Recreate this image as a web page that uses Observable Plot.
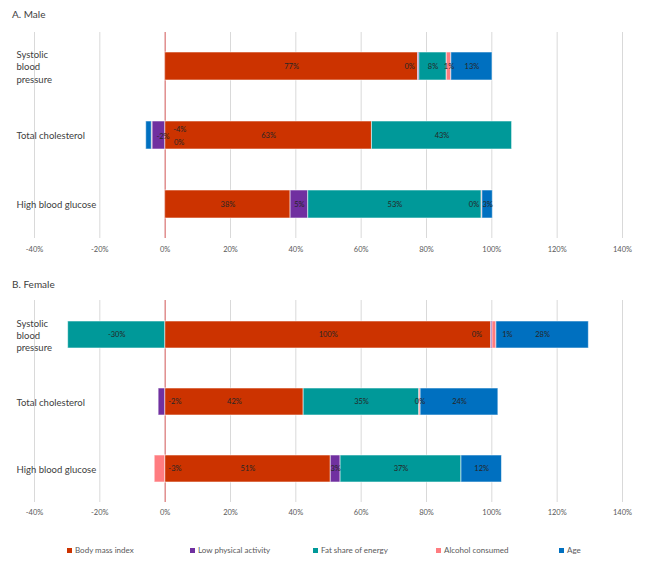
<!DOCTYPE html>
<html>
<head>
<meta charset="utf-8">
<script src="https://cdn.jsdelivr.net/npm/d3@7"></script>
<script src="https://cdn.jsdelivr.net/npm/@observablehq/plot@0.6"></script>
<style>
  body { margin: 0; background: #fff; font-family: Lato, "Open Sans", sans-serif; }
  #wrap { position: relative; width: 650px; height: 569px; overflow: hidden; background: #fff; }
  .title { position: absolute; left: 12px; font-size: 10px; color: #404040; z-index: 2; }
  .panel { position: absolute; left: 0; z-index: 1; }
  #legend { position: absolute; left: 67px; top: 545px; display: flex; font-size: 8px; color: #595959; }
  #legend .item { width: 123px; display: flex; align-items: center; }
  #legend .sw { width: 5px; height: 5px; margin-right: 3px; }
</style>
</head>
<body>
<div id="wrap">
  <div class="panel" id="male" style="top:0px"></div>
  <div class="panel" id="female" style="top:268px"></div>
  <div class="title" style="top:8px">A. Male</div>
  <div class="title" style="top:278px">B. Female</div>
  <div id="legend"></div>
</div>
<script>
// ---- data ----
const categories = ["Systolic blood pressure", "Total cholesterol", "High blood glucose"];
const categoryLabels = ["Systolic\nblood\npressure", "Total cholesterol", "High blood glucose"];
const factors = ["Body mass index", "Low physical activity", "Fat share of energy", "Alcohol consumed", "Age"];
const factorColors = ["#CC3300", "#7030A0", "#009999", "#FF7C80", "#0070C0"];
const xTicks = [-40, -20, 0, 20, 40, 60, 80, 100, 120, 140];

// Male (% contribution), per factor, in category order
const maleBodyMassIndex = [77.4, 63.3, 38.4];
const maleLowPhysicalActivity = [0.4, -3.9, 5.4];
const maleFatShare = [8.4, 42.9, 53.1];
const maleAlcohol = [1.4, -0.2, 0.2];
const maleAge = [12.6, -1.7, 3.2];

// Female
const femaleBodyMassIndex = [99.8, 42.4, 50.7];
const femaleLowPhysicalActivity = [0.4, -2.0, 3.0];
const femaleFatShare = [-29.7, 35.4, 37.0];
const femaleAlcohol = [1.2, 0.4, -3.2];
const femaleAge = [28.3, 23.8, 12.4];

// label nudges (pixels) for small segments: [category index, factor index, dx, dy]
const maleNudges = [[0, 1, -9, 0], [1, 1, 21, -6], [1, 4, 14, 1], [1, 3, 27, 7], [2, 3, -8, 0]];
const femaleNudges = [[0, 1, -15, 0], [0, 3, 13, 0], [1, 1, 13, 0], [2, 3, 15, 0]];

function buildRows(series) {
  const rows = [];
  categories.forEach((c, i) => {
    factors.forEach((f, j) => {
      rows.push({category: c, factor: f, fi: j, ci: i, value: series[j][i]});
    });
  });
  return rows;
}

const fmt = v => `${Math.round(v) === 0 ? 0 : Math.round(v)}%`;

function chart(rows, nudges, opts) {
  const isNudged = d => nudges.some(n => n[0] === d.ci && n[1] === d.fi);
  const stackOpts = {x: "value", y: "category", z: "factor"};
  const labelMarks = [
    Plot.text(rows, Plot.stackX({...stackOpts, text: d => isNudged(d) ? null : fmt(d.value),
      fontSize: 7.5, fill: "#262626"}))
  ];
  for (const [ci, fi, dx, dy] of nudges) {
    labelMarks.push(Plot.text(rows, Plot.stackX({...stackOpts,
      text: d => (d.ci === ci && d.fi === fi) ? fmt(d.value) : null,
      dx, dy, fontSize: 7.5, fill: "#262626"})));
  }
  return Plot.plot({
    width: 650,
    height: 262,
    marginLeft: 34,
    marginRight: 28,
    marginTop: 32,
    marginBottom: opts.marginBottom,
    style: {fontFamily: "Lato, 'Open Sans', sans-serif", background: "transparent"},
    x: {domain: [-40, 140], ticks: xTicks, tickFormat: d => `${d}%`, label: null},
    y: {domain: categories, paddingInner: 0.6, paddingOuter: 0.29, label: null},
    color: {domain: factors, range: factorColors},
    marks: [
      Plot.gridX(xTicks, {stroke: "#d9d9d9", strokeOpacity: 1}),
      Plot.axisX(xTicks, {tickSize: 0, tickPadding: opts.tickPadding, fontSize: 7.5, fill: "#595959",
        tickFormat: d => `${d}%`, label: null}),
      Plot.axisY(categories, {tickSize: 0, tickPadding: 0, textAnchor: "start", dx: -18,
        fontSize: 9.5, fill: "#404040", lineHeight: 1.3, label: null,
        tickFormat: d => categoryLabels[categories.indexOf(d)]}),
      Plot.ruleX([0], {stroke: "#e06666", strokeWidth: 1}),
      Plot.barX(rows, Plot.stackX({...stackOpts, fill: "factor", stroke: "white", strokeOpacity: 0.55, strokeWidth: 1})),
      ...labelMarks
    ]
  });
}

const maleRows = buildRows([maleBodyMassIndex, maleLowPhysicalActivity, maleFatShare, maleAlcohol, maleAge]);
const femaleRows = buildRows([femaleBodyMassIndex, femaleLowPhysicalActivity, femaleFatShare, femaleAlcohol, femaleAge]);

document.getElementById("male").append(chart(maleRows, maleNudges, {marginBottom: 24, tickPadding: 8}));
document.getElementById("female").append(chart(femaleRows, femaleNudges, {marginBottom: 28, tickPadding: 7}));

const legend = document.getElementById("legend");
factors.forEach((f, i) => {
  const item = document.createElement("div");
  item.className = "item";
  const sw = document.createElement("span");
  sw.className = "sw";
  sw.style.background = factorColors[i];
  const t = document.createElement("span");
  t.textContent = f;
  item.append(sw, t);
  legend.append(item);
});
</script>
</body>
</html>
